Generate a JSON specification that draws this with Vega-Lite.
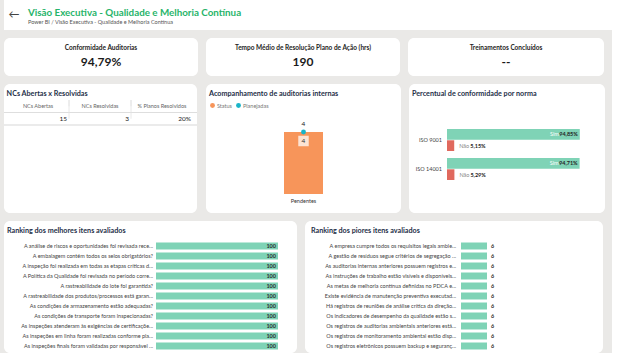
{
  "$schema": "https://vega.github.io/schema/vega-lite/v6.json",
  "background": "#eae9e7",
  "padding": {"left": 3, "top": 0, "right": 0, "bottom": 0},
  "spacing": 8,
  "config": {
    "font": "Lato",
    "view": {"stroke": null},
    "axis": {"disable": true},
    "title": {"anchor": "start", "fontSize": 7.2, "fontWeight": "bold", "color": "#252f48", "offset": -13, "dx": 3},
    "text": {"font": "Lato"}
  },
  "vconcat": [
    {
      "spacing": 0,
      "hconcat": [
        {
          "width": 20, "height": 30,
          "view": {"fill": "white"},
          "data": {"values": [{"icone": "←"}]},
          "mark": {"type": "text", "fontSize": 11, "color": "#444444"},
          "encoding": {"text": {"field": "icone"}}
        },
        {
          "width": 588, "height": 30,
          "view": {"fill": "white"},
          "title": {
            "text": "Visão Executiva - Qualidade e Melhoria Contínua",
            "subtitle": "Power BI / Visão Executiva - Qualidade e Melhoria Contínua",
            "fontSize": 9.8, "color": "#27b46a",
            "subtitleFontSize": 5.5, "subtitleColor": "#555555", "subtitlePadding": 1.5,
            "offset": -25, "dx": 4
          },
          "data": {"values": [{"vazio": ""}]},
          "mark": "text",
          "encoding": {"text": {"field": "vazio"}}
        }
      ]
    },
    {
      "spacing": 8,
      "hconcat": [
        {
          "width": 194, "height": 38,
          "view": {"fill": "white", "cornerRadius": 6},
          "data": {"values": [{"indicador": "Conformidade Auditorias", "valor": "94,79%"}]},
          "layer": [
            {"mark": {"type": "text", "fontSize": 6.5, "fontWeight": "bold", "color": "#252423", "dy": -9}, "encoding": {"text": {"field": "indicador"}}},
            {"mark": {"type": "text", "fontSize": 12, "fontWeight": "bold", "color": "#1b1b1b", "dy": 5}, "encoding": {"text": {"field": "valor"}}}
          ]
        },
        {
          "width": 194, "height": 38,
          "view": {"fill": "white", "cornerRadius": 6},
          "data": {"values": [{"indicador": "Tempo Médio de Resolução Plano de Ação (hrs)", "valor": "190"}]},
          "layer": [
            {"mark": {"type": "text", "fontSize": 6.5, "fontWeight": "bold", "color": "#252423", "dy": -9}, "encoding": {"text": {"field": "indicador"}}},
            {"mark": {"type": "text", "fontSize": 12, "fontWeight": "bold", "color": "#1b1b1b", "dy": 5}, "encoding": {"text": {"field": "valor"}}}
          ]
        },
        {
          "width": 196, "height": 38,
          "view": {"fill": "white", "cornerRadius": 6},
          "data": {"values": [{"indicador": "Treinamentos Concluídos", "valor": "--"}]},
          "layer": [
            {"mark": {"type": "text", "fontSize": 6.5, "fontWeight": "bold", "color": "#252423", "dy": -9}, "encoding": {"text": {"field": "indicador"}}},
            {"mark": {"type": "text", "fontSize": 12, "fontWeight": "bold", "color": "#1b1b1b", "dy": 5}, "encoding": {"text": {"field": "valor"}}}
          ]
        }
      ]
    },
    {
      "spacing": 8,
      "resolve": {"scale": {"color": "independent"}, "legend": {"color": "independent"}},
      "hconcat": [
        {
          "width": 193, "height": 129,
          "view": {"fill": "white", "cornerRadius": 6},
          "title": {"text": "NCs Abertas x Resolvidas"},
          "data": {"values": [
            {"coluna": "NCs Abertas", "valor": "15"},
            {"coluna": "NCs Resolvidas", "valor": "3"},
            {"coluna": "% Planos Resolvidos", "valor": "20%"}
          ]},
          "layer": [
            {
              "mark": {"type": "text", "fontSize": 5.5, "color": "#666666"},
              "encoding": {
                "x": {"field": "coluna", "type": "nominal", "sort": null, "scale": {"range": [3, 189], "paddingInner": 0, "paddingOuter": 0}},
                "y": {"datum": "cabeçalho", "type": "nominal", "scale": {"domain": ["cabeçalho", "valores"], "range": [16, 41], "paddingInner": 0, "paddingOuter": 0}},
                "text": {"field": "coluna"}
              }
            },
            {
              "mark": {"type": "text", "fontSize": 6.5, "color": "#222222", "align": "right", "dx": -2},
              "encoding": {
                "x": {"field": "coluna", "type": "nominal", "sort": null, "bandPosition": 1},
                "y": {"datum": "valores", "type": "nominal"},
                "text": {"field": "valor"}
              }
            },
            {
              "mark": {"type": "rule", "color": "#dddddd", "strokeWidth": 0.8},
              "encoding": {"y": {"datum": "cabeçalho", "type": "nominal", "bandPosition": 1}}
            },
            {
              "mark": {"type": "rule", "color": "#e6e6e6", "strokeWidth": 0.8},
              "encoding": {"y": {"datum": "valores", "type": "nominal", "bandPosition": 1}}
            },
            {
              "transform": [{"filter": "datum.coluna !== '% Planos Resolvidos'"}],
              "mark": {"type": "rule", "color": "#e2e2e2", "strokeWidth": 0.8, "orient": "vertical"},
              "encoding": {
                "x": {"field": "coluna", "type": "nominal", "sort": null, "bandPosition": 1},
                "y": {"datum": "cabeçalho", "type": "nominal"}
              }
            },
            {
              "transform": [{"filter": "datum.coluna !== '% Planos Resolvidos'"}],
              "mark": {"type": "rule", "color": "#e2e2e2", "strokeWidth": 0.8, "orient": "vertical"},
              "encoding": {
                "x": {"field": "coluna", "type": "nominal", "sort": null, "bandPosition": 1},
                "y": {"datum": "valores", "type": "nominal"}
              }
            }
          ]
        },
        {
          "width": 195, "height": 129,
          "view": {"fill": "white", "cornerRadius": 6},
          "title": {"text": "Acompanhamento de auditorias internas"},
          "data": {"values": [{"situacao": "Pendentes", "status": 4, "planejadas": 4}]},
          "encoding": {
            "x": {"field": "situacao", "type": "nominal", "scale": {"paddingInner": 0.8, "paddingOuter": 0.4}}
          },
          "layer": [
            {
              "mark": {"type": "bar"},
              "encoding": {
                "y": {"field": "status", "type": "quantitative", "scale": {"domain": [0, 4], "range": [110, 48], "nice": false, "zero": true}},
                "color": {"datum": "Status", "type": "nominal", "scale": {"domain": ["Status", "Planejadas"], "range": ["#f7955a", "#1ab4c8"]},
                  "legend": {"orient": "none", "legendX": 3, "legendY": 18, "direction": "horizontal", "title": null, "symbolType": "circle", "symbolSize": 24, "labelFontSize": 5.5, "labelColor": "#777777", "labelOffset": 1, "columnPadding": 3}}
              }
            },
            {
              "mark": {"type": "point", "shape": "square", "filled": true, "size": 110, "color": "#fde3d3", "opacity": 1},
              "encoding": {"y": {"field": "status", "type": "quantitative"}, "yOffset": {"value": 9}}
            },
            {
              "mark": {"type": "text", "fontSize": 6.5, "color": "#333333", "dy": 9},
              "encoding": {"y": {"field": "status", "type": "quantitative"}, "text": {"field": "status"}}
            },
            {
              "mark": {"type": "point", "filled": true, "size": 24, "opacity": 1},
              "encoding": {"y": {"field": "planejadas", "type": "quantitative"}, "color": {"datum": "Planejadas", "type": "nominal"}}
            },
            {
              "mark": {"type": "text", "fontSize": 6.5, "color": "#222222", "dy": -8},
              "encoding": {"y": {"field": "planejadas", "type": "quantitative"}, "text": {"field": "planejadas"}}
            },
            {
              "mark": {"type": "text", "fontSize": 5.5, "color": "#333333", "dy": 7},
              "encoding": {"y": {"datum": 0, "type": "quantitative"}, "text": {"field": "situacao"}}
            }
          ]
        },
        {
          "width": 196, "height": 129,
          "view": {"fill": "white", "cornerRadius": 6},
          "title": {"text": "Percentual de conformidade por norma"},
          "data": {"values": [
            {"norma": "ISO 9001", "resposta": "Sim", "pct": 0.9485, "rotulo": "94,85%"},
            {"norma": "ISO 9001", "resposta": "Não", "pct": 0.0515, "rotulo": "5,15%"},
            {"norma": "ISO 14001", "resposta": "Sim", "pct": 0.9471, "rotulo": "94,71%"},
            {"norma": "ISO 14001", "resposta": "Não", "pct": 0.0529, "rotulo": "5,29%"}
          ]},
          "encoding": {
            "y": {"field": "norma", "type": "nominal", "sort": ["ISO 9001", "ISO 14001"], "scale": {"range": [41.5, 99.5], "paddingInner": 0.24, "paddingOuter": 0.12}}
          },
          "layer": [
            {
              "mark": {"type": "bar"},
              "encoding": {
                "x": {"field": "pct", "type": "quantitative", "scale": {"domain": [0, 1], "range": [38, 178], "nice": false}},
                "yOffset": {"field": "resposta", "type": "nominal", "sort": ["Sim", "Não"], "scale": {"paddingInner": 0.05}},
                "color": {"field": "resposta", "type": "nominal", "scale": {"domain": ["Sim", "Não"], "range": ["#7fd3b6", "#e0695e"]}, "legend": null}
              }
            },
            {
              "transform": [{"filter": "datum.resposta === 'Sim'"}],
              "mark": {"type": "text", "fontSize": 5.5, "color": "white", "align": "right", "dx": -21},
              "encoding": {
                "x": {"field": "pct", "type": "quantitative"},
                "yOffset": {"field": "resposta", "type": "nominal", "sort": ["Sim", "Não"]},
                "text": {"field": "resposta"}
              }
            },
            {
              "transform": [{"filter": "datum.resposta === 'Sim'"}],
              "mark": {"type": "text", "fontSize": 5.5, "fontWeight": "bold", "color": "#252423", "align": "right", "dx": -2},
              "encoding": {
                "x": {"field": "pct", "type": "quantitative"},
                "yOffset": {"field": "resposta", "type": "nominal", "sort": ["Sim", "Não"]},
                "text": {"field": "rotulo"}
              }
            },
            {
              "transform": [{"filter": "datum.resposta === 'Não'"}],
              "mark": {"type": "text", "fontSize": 5.5, "color": "#888888", "align": "left", "dx": 5},
              "encoding": {
                "x": {"field": "pct", "type": "quantitative"},
                "yOffset": {"field": "resposta", "type": "nominal", "sort": ["Sim", "Não"]},
                "text": {"field": "resposta"}
              }
            },
            {
              "transform": [{"filter": "datum.resposta === 'Não'"}],
              "mark": {"type": "text", "fontSize": 5.5, "fontWeight": "bold", "color": "#252423", "align": "left", "dx": 16},
              "encoding": {
                "x": {"field": "pct", "type": "quantitative"},
                "yOffset": {"field": "resposta", "type": "nominal", "sort": ["Sim", "Não"]},
                "text": {"field": "rotulo"}
              }
            },
            {
              "transform": [{"filter": "datum.resposta === 'Sim'"}],
              "mark": {"type": "text", "fontSize": 5.5, "color": "#444444", "align": "right", "dx": -5},
              "encoding": {
                "x": {"datum": 0, "type": "quantitative"},
                "text": {"field": "norma"}
              }
            }
          ]
        }
      ]
    },
    {
      "spacing": 8,
      "hconcat": [
        {
          "width": 293, "height": 132,
          "view": {"fill": "white", "cornerRadius": 6},
          "title": {"text": "Ranking dos melhores itens avaliados"},
          "data": {"values": [
            {"item": "A análise de riscos e oportunidades foi revisada rece...", "nota": 100},
            {"item": "A embalagem contém todos os selos obrigatórios?", "nota": 100},
            {"item": "A inspeção foi realizada em todas as etapas críticas d...", "nota": 100},
            {"item": "A Política da Qualidade foi revisada no período corre...", "nota": 100},
            {"item": "A rastreabilidade do lote foi garantida?", "nota": 100},
            {"item": "A rastreabilidade dos produtos/processos está garan...", "nota": 100},
            {"item": "As condições de armazenamento estão adequadas?", "nota": 100},
            {"item": "As condições de transporte foram inspecionadas?", "nota": 100},
            {"item": "As inspeções atenderam às exigências de certificaçõe...", "nota": 100},
            {"item": "As inspeções em linha foram realizadas conforme pla...", "nota": 100},
            {"item": "As inspeções finais foram validadas por responsável ...", "nota": 100}
          ]},
          "encoding": {
            "y": {"field": "item", "type": "nominal", "sort": null, "scale": {"range": [20, 130], "paddingInner": 0.3, "paddingOuter": 0.15}}
          },
          "layer": [
            {
              "mark": {"type": "bar", "color": "#7fd3b6"},
              "encoding": {"x": {"field": "nota", "type": "quantitative", "scale": {"domain": [0, 100], "range": [152, 274], "nice": false}}}
            },
            {
              "mark": {"type": "text", "fontSize": 5.5, "fontWeight": "bold", "color": "#2b2b2b", "align": "right", "dx": -2},
              "encoding": {"x": {"field": "nota", "type": "quantitative"}, "text": {"field": "nota"}}
            },
            {
              "mark": {"type": "text", "fontSize": 5.5, "color": "#444444", "align": "right", "dx": -3},
              "encoding": {"x": {"datum": 0, "type": "quantitative"}, "text": {"field": "item"}}
            }
          ]
        },
        {
          "width": 298, "height": 132,
          "view": {"fill": "white", "cornerRadius": 6},
          "title": {"text": "Ranking dos piores itens avaliados", "dx": 6},
          "data": {"values": [
            {"item": "A empresa cumpre todos os requisitos legais ambie...", "nota": 6},
            {"item": "A gestão de resíduos segue critérios de segregação ...", "nota": 6},
            {"item": "As auditorias internas anteriores possuem registros e...", "nota": 6},
            {"item": "As instruções de trabalho estão visíveis e disponíveis...", "nota": 6},
            {"item": "As metas de melhoria contínua definidas no PDCA e...", "nota": 6},
            {"item": "Existe evidência de manutenção preventiva executad...", "nota": 6},
            {"item": "Há registros de reuniões de análise crítica da direção...", "nota": 6},
            {"item": "Os indicadores de desempenho da qualidade estão s...", "nota": 6},
            {"item": "Os registros de auditorias ambientais anteriores está...", "nota": 6},
            {"item": "Os registros de monitoramento ambiental estão disp...", "nota": 6},
            {"item": "Os registros eletrônicos possuem backup e seguranç...", "nota": 6}
          ]},
          "encoding": {
            "y": {"field": "item", "type": "nominal", "sort": null, "scale": {"range": [20, 130], "paddingInner": 0.3, "paddingOuter": 0.15}}
          },
          "layer": [
            {
              "mark": {"type": "bar", "color": "#7fd3b6"},
              "encoding": {"x": {"field": "nota", "type": "quantitative", "scale": {"domain": [0, 6], "range": [156, 182], "nice": false}}}
            },
            {
              "mark": {"type": "text", "fontSize": 5.5, "fontWeight": "bold", "color": "#2b2b2b", "align": "left", "dx": 4},
              "encoding": {"x": {"field": "nota", "type": "quantitative"}, "text": {"field": "nota"}}
            },
            {
              "mark": {"type": "text", "fontSize": 5.5, "color": "#444444", "align": "right", "dx": -5},
              "encoding": {"x": {"datum": 0, "type": "quantitative"}, "text": {"field": "item"}}
            }
          ]
        }
      ]
    }
  ]
}
